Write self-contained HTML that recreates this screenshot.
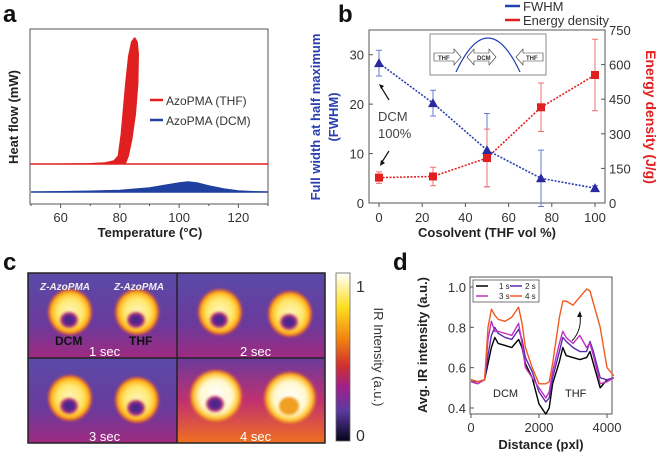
<!DOCTYPE html>
<html><head><meta charset="utf-8"><style>
body{margin:0;background:#fff;}
svg{display:block;font-family:"Liberation Sans",sans-serif;}
.tk{font-size:13px;fill:#333;}
.tt{font-size:13px;font-weight:bold;fill:#222;}
.lt{font-size:24px;font-weight:bold;fill:#111;}
</style></head><body>
<svg id="fig" width="660" height="456" viewBox="0 0 660 456">
<defs>
<radialGradient id="ringG" cx="50%" cy="50%" r="50%">
<stop offset="0%" stop-color="#fff6c0"/><stop offset="55%" stop-color="#ffe870"/><stop offset="78%" stop-color="#ffc020"/><stop offset="90%" stop-color="#f07020"/><stop offset="100%" stop-color="#c03060" stop-opacity="0"/>
</radialGradient>
<radialGradient id="ringW" cx="50%" cy="50%" r="50%">
<stop offset="0%" stop-color="#ffffff"/><stop offset="60%" stop-color="#fff8d0"/><stop offset="80%" stop-color="#ffd040"/><stop offset="92%" stop-color="#f08020"/><stop offset="100%" stop-color="#d04040" stop-opacity="0"/>
</radialGradient>
<radialGradient id="holeG" cx="50%" cy="50%" r="50%">
<stop offset="0%" stop-color="#3e2888"/><stop offset="55%" stop-color="#5a2890"/><stop offset="80%" stop-color="#c03070"/><stop offset="100%" stop-color="#f08030" stop-opacity="0"/>
</radialGradient>
<linearGradient id="bgTop" x1="0" y1="0" x2="0" y2="1">
<stop offset="0%" stop-color="#5a4aa8"/><stop offset="60%" stop-color="#6a3a9c"/><stop offset="100%" stop-color="#a02a80"/>
</linearGradient>
<linearGradient id="bg4" x1="0" y1="0" x2="0" y2="1">
<stop offset="0%" stop-color="#6a3a9c"/><stop offset="50%" stop-color="#c03070"/><stop offset="100%" stop-color="#f07020"/>
</linearGradient>
<linearGradient id="cbar" x1="0" y1="0" x2="0" y2="1">
<stop offset="0%" stop-color="#ffffff"/><stop offset="20%" stop-color="#ffe020"/><stop offset="40%" stop-color="#f08010"/><stop offset="55%" stop-color="#d03030"/><stop offset="68%" stop-color="#a0208a"/><stop offset="82%" stop-color="#5a3aa0"/><stop offset="100%" stop-color="#05051a"/>
</linearGradient>
<filter id="bl"><feGaussianBlur stdDeviation="1.2"/></filter>
</defs>

<g id="pa">
<text class="lt" x="3" y="22">a</text>
<rect x="30" y="29" width="238" height="175" fill="none" stroke="#555" stroke-width="1"/>
<g id="aMarks"></g>
<text class="tt" transform="translate(18,117) rotate(-90)" text-anchor="middle">Heat flow (mW)</text>
<text class="tt" x="150" y="237" text-anchor="middle">Temperature (°C)</text>
<line x1="150" y1="100" x2="163" y2="100" stroke="#e02020" stroke-width="2.5"/>
<text x="166" y="105" font-size="12" fill="#333">AzoPMA (THF)</text>
<line x1="150" y1="120" x2="163" y2="120" stroke="#2040a0" stroke-width="2.5"/>
<text x="166" y="125" font-size="12" fill="#333">AzoPMA (DCM)</text>
</g>

<g id="pb">
<text class="lt" x="338" y="22">b</text>
<rect x="369" y="30" width="236" height="173" fill="none" stroke="#555"/>
<rect x="430" y="34" width="116" height="41" fill="#fff" stroke="#888"/>
<path d="M456 72 Q488 4 520 72" fill="none" stroke="#2040b0" stroke-width="1.2"/>
<g fill="#fff" stroke="#333" stroke-width="0.6">
<path d="M434 53h20v-4l7 8-7 8v-4h-20z"/>
<path d="M474 53h15v-4l7 8-7 8v-4h-15v4l-7-8 7-8z"/>
<path d="M543 53h-20v-4l-7 8 7 8v-4h20z"/>
</g>
<text x="438" y="60" font-size="6" font-weight="bold" fill="#333">THF</text>
<text x="477" y="60" font-size="6" font-weight="bold" fill="#333">DCM</text>
<text x="526" y="60" font-size="6" font-weight="bold" fill="#333">THF</text>
<g id="bMarks"></g>
<text x="378" y="121" font-size="13" fill="#444">DCM</text>
<text x="378" y="138" font-size="13" fill="#444">100%</text>
<line x1="389" y1="100" x2="381" y2="87" stroke="#111" stroke-width="1.2"/>
<path d="M379 84l5 2-3 3z" fill="#111"/>
<line x1="389" y1="151" x2="382" y2="162" stroke="#111" stroke-width="1.2"/>
<path d="M380 166l1-6 4 3z" fill="#111"/>
<text class="tt" transform="translate(320,117) rotate(-90)" text-anchor="middle" style="fill:#2a3fb0">Full width at half maximum</text>
<text class="tt" transform="translate(338,117) rotate(-90)" text-anchor="middle" style="fill:#2a3fb0">(FWHM)</text>
<text class="tt" transform="translate(646,117) rotate(90)" text-anchor="middle" style="fill:#e02020;font-size:14px">Energy density (J/g)</text>
<text class="tt" x="487" y="237" text-anchor="middle">Cosolvent (THF vol %)</text>
<line x1="505" y1="6" x2="520" y2="6" stroke="#2040b0" stroke-width="2.5"/>
<text x="523" y="11" font-size="13" fill="#333">FWHM</text>
<line x1="505" y1="20" x2="520" y2="20" stroke="#e02020" stroke-width="2.5"/>
<text x="523" y="25" font-size="13" fill="#333">Energy density</text>
</g>

<g id="pc">
<text class="lt" x="3" y="270">c</text>
<g id="cImgs"></g>
<rect x="28" y="273" width="297" height="170" fill="none" stroke="#222" stroke-width="1.5"/>
<line x1="177" y1="273" x2="177" y2="443" stroke="#222" stroke-width="1.5"/>
<line x1="28" y1="358" x2="325" y2="358" stroke="#222" stroke-width="1.5"/>
<text x="40" y="290" font-size="10" font-weight="bold" font-style="italic" fill="#eee">Z-AzoPMA</text>
<text x="114" y="290" font-size="10" font-weight="bold" font-style="italic" fill="#eee">Z-AzoPMA</text>
<text x="55" y="345" font-size="12" font-weight="bold" fill="#111">DCM</text>
<text x="129" y="345" font-size="12" font-weight="bold" fill="#111">THF</text>
<text x="89" y="356" font-size="13" fill="#fff">1 sec</text>
<text x="240" y="356" font-size="13" fill="#fff">2 sec</text>
<text x="89" y="441" font-size="13" fill="#fff">3 sec</text>
<text x="240" y="441" font-size="13" fill="#fff">4 sec</text>
<rect x="336" y="273" width="14" height="168" fill="url(#cbar)" stroke="#666" stroke-width="0.8"/>
<text x="356" y="292" font-size="16" fill="#333">1</text>
<text x="356" y="441" font-size="16" fill="#333">0</text>
<text x="374" y="357" font-size="13" fill="#333" transform="rotate(90 374 357)" text-anchor="middle">IR Intensity (a.u.)</text>
</g>

<g id="pd">
<text class="lt" x="393" y="270">d</text>
<rect x="470" y="277" width="142" height="137" fill="none" stroke="#555"/>
<g id="dMarks"></g>
<rect x="473" y="280" width="66" height="22" fill="#fff" stroke="#555" stroke-width="0.8"/>
<line x1="476" y1="286" x2="488" y2="286" stroke="#000" stroke-width="1.5"/>
<text x="499" y="289" font-size="8" fill="#222">1 s</text>
<line x1="510" y1="286" x2="522" y2="286" stroke="#5a2bb0" stroke-width="1.5"/>
<text x="525" y="289" font-size="8" fill="#222">2 s</text>
<line x1="476" y1="296" x2="488" y2="296" stroke="#c030c0" stroke-width="1.5"/>
<text x="499" y="299" font-size="8" fill="#222">3 s</text>
<line x1="510" y1="296" x2="522" y2="296" stroke="#f05a20" stroke-width="1.5"/>
<text x="525" y="299" font-size="8" fill="#222">4 s</text>
<text x="493" y="397" font-size="11" fill="#222">DCM</text>
<text x="565" y="397" font-size="11" fill="#222">THF</text>
<path d="M572 341 Q582 330 580 315" fill="none" stroke="#111" stroke-width="1"/>
<path d="M580 311l-3 6 5 0z" fill="#111"/>
<text class="tt" transform="translate(427,345) rotate(-90)" text-anchor="middle">Avg. IR intensity (a.u.)</text>
<text class="tt" x="541" y="449" text-anchor="middle">Distance (pxl)</text>
</g>
</svg>
<script>
const aTicks=[60,80,100,120];
const thfT=[50,60,70,75,78,79.5,80.5,82,83,84,85,85.8,86.2,86,85.2,84,82.8,82,81.5,130];
const thfH=[0,0,0.3,1,3,8,30,80,108,122,126,122,110,80,50,25,8,2,0,0];
const dcmT=[50,60,70,80,90,95,100,103,106,110,115,120,125,130];
const dcmH=[0,0.3,0.8,1.5,4,6.5,9,10,9,6,3,1,0.3,0];
const bCats=[0,25,50,75,100];
const fwhm=[28.3,20.2,10.7,5.0,3.0];
const fwhmErr=[2.6,2.6,7.4,5.7,0.5];
const energy=[110,115,195,415,555];
const energyErr=[25,40,125,105,155];
const bXTicks=[0,20,40,60,80,100];
const bLTicks=[0,10,20,30];
const bRTicks=[0,150,300,450,600,750];
const dist=[0,200,400,500,600,700,800,1000,1200,1400,1500,1600,1800,2000,2200,2300,2400,2600,2700,2800,3000,3200,3400,3500,3600,3800,4000,4200];
const s1=[.54,.53,.54,.62,.70,.75,.72,.71,.70,.74,.70,.62,.55,.42,.37,.40,.52,.63,.70,.66,.65,.64,.65,.68,.62,.50,.54,.55];
const s2=[.53,.53,.54,.66,.76,.80,.77,.75,.74,.79,.74,.65,.58,.48,.43,.45,.55,.68,.75,.73,.70,.68,.68,.73,.68,.55,.54,.55];
const s3=[.53,.52,.54,.74,.83,.78,.78,.77,.76,.82,.72,.60,.55,.50,.45,.48,.58,.72,.78,.75,.72,.76,.70,.72,.66,.52,.53,.55];
const s4=[.54,.53,.54,.80,.89,.86,.84,.83,.85,.90,.82,.70,.60,.52,.52,.53,.62,.85,.93,.93,.91,.95,.99,.98,.92,.80,.60,.56];
const dXTicks=[0,2000,4000];
const dYTicks=[0.4,0.6,0.8,1.0];

const NS="http://www.w3.org/2000/svg";
function mk(parent,tag,attrs){const e=document.createElementNS(NS,tag);for(const k in attrs)e.setAttribute(k,attrs[k]);parent.appendChild(e);return e;}

(function(){
const g=document.getElementById('aMarks');
const ax=t=>31+(t-50)*(237/80);
const ay=(base,h)=>base-h;
let p='M'+thfT.map((t,i)=>ax(t)+','+ay(164,thfH[i])).join('L')+'Z';
let e=mk(g,'path',{d:p,fill:'#e02020',stroke:'#e02020','stroke-width':1.5,'stroke-linejoin':'round'});


p='M'+dcmT.map((t,i)=>ax(t)+','+ay(192,dcmH[i])).join('L')+'Z';
e=mk(g,'path',{d:p,fill:'#2040a0',stroke:'#2040a0','stroke-width':1.5});


for(let t=50;t<=130;t+=10){mk(g,'line',{x1:ax(t),x2:ax(t),y1:204,y2:t%20==0?208:206,stroke:'#555'});}
aTicks.forEach(t=>{const tx=mk(g,'text',{x:ax(t),y:222,'text-anchor':'middle',class:'tk'});tx.textContent=t;

});
})();

(function(){
const g=document.getElementById('bMarks');
const bx=v=>379+v*2.16;
const yl=v=>203-v*(173/35);
const yr=v=>203-v*(173/750);
bXTicks.forEach(v=>{mk(g,'line',{x1:bx(v),x2:bx(v),y1:203,y2:207,stroke:'#555'});const t=mk(g,'text',{x:bx(v),y:222,'text-anchor':'middle',class:'tk'});t.textContent=v;

});
bLTicks.forEach(v=>{mk(g,'line',{x1:369,x2:373,y1:yl(v),y2:yl(v),stroke:'#555'});const t=mk(g,'text',{x:364,y:yl(v)+5,'text-anchor':'end',class:'tk'});t.textContent=v;

});
bRTicks.forEach(v=>{mk(g,'line',{x1:601,x2:605,y1:yr(v),y2:yr(v),stroke:'#555'});const t=mk(g,'text',{x:609,y:yr(v)+5,class:'tk'});t.textContent=v;

});
let l=mk(g,'polyline',{points:bCats.map((c,i)=>bx(c)+','+yl(fwhm[i])).join(' '),fill:'none',stroke:'#2a3fb0','stroke-width':1.6,'stroke-dasharray':'2,1.5'});


l=mk(g,'polyline',{points:bCats.map((c,i)=>bx(c)+','+yr(energy[i])).join(' '),fill:'none',stroke:'#e02020','stroke-width':1.6,'stroke-dasharray':'2,1.5'});


bCats.forEach((c,i)=>{
 const x=bx(c);
 let e=mk(g,'path',{d:`M${x},${yl(fwhm[i]-fwhmErr[i])}V${yl(fwhm[i]+fwhmErr[i])}M${x-3},${yl(fwhm[i]-fwhmErr[i])}h6M${x-3},${yl(fwhm[i]+fwhmErr[i])}h6`,stroke:'#6a7ad0','stroke-width':1,fill:'none'});
 
 
 e=mk(g,'path',{d:`M${x},${yr(energy[i]-energyErr[i])}V${yr(energy[i]+energyErr[i])}M${x-3},${yr(energy[i]-energyErr[i])}h6M${x-3},${yr(energy[i]+energyErr[i])}h6`,stroke:'#f07070','stroke-width':1,fill:'none'});
 
 
 const y=yl(fwhm[i]);
 e=mk(g,'path',{d:`M${x},${y-5}L${x+5},${y+4}L${x-5},${y+4}Z`,fill:'#2a2aa0'});
 
 
 const y2=yr(energy[i]);
 e=mk(g,'rect',{x:x-4,y:y2-4,width:8,height:8,fill:'#e02020'});
 
 
});
})();

(function(){
const g=document.getElementById('cImgs');
const panels=[
 {x:28,y:273,bg:'url(#bgTop)',ring:'url(#ringG)',r1:[70,312],r2:[137,312]},
 {x:177,y:273,bg:'url(#bgTop)',ring:'url(#ringG)',r1:[220,312],r2:[290,314]},
 {x:28,y:358,bg:'url(#bgTop)',ring:'url(#ringG)',r1:[70,398],r2:[137,400]},
 {x:177,y:358,bg:'url(#bg4)',ring:'url(#ringW)',r1:[216,396],r2:[290,398]}];
panels.forEach((p,i)=>{
 let e=mk(g,'rect',{x:p.x,y:p.y,width:i%2?148:149,height:85,fill:p.bg});
 
 
 [p.r1,p.r2].forEach((c,j)=>{
  const big=i==3;
  e=mk(g,'ellipse',{cx:c[0],cy:c[1],rx:big?27:23,ry:big?27:24,fill:p.ring,filter:'url(#bl)'});
  
  
  e=mk(g,'ellipse',{cx:c[0]-1,cy:c[1]+8,rx:10,ry:9,fill:(i==3&&j==1)?'#f0a020':'url(#holeG)',filter:'url(#bl)'});
  
  
 });
});
})();

(function(){
const g=document.getElementById('dMarks');
const dx=v=>471+v*(136/4000);
const dy=v=>287+(1.0-v)*(121/0.6);
dXTicks.forEach(v=>{mk(g,'line',{x1:dx(v),x2:dx(v),y1:414,y2:418,stroke:'#555'});const t=mk(g,'text',{x:dx(v),y:432,'text-anchor':'middle',class:'tk'});t.textContent=v;

});
dYTicks.forEach(v=>{mk(g,'line',{x1:470,x2:474,y1:dy(v),y2:dy(v),stroke:'#555'});const t=mk(g,'text',{x:466,y:dy(v)+5,'text-anchor':'end',class:'tk'});t.textContent=v.toFixed(1);

});
const series=[[s1,'#000','series-1s'],[s2,'#5a2bb0','series-2s'],[s3,'#c030c0','series-3s'],[s4,'#f05a20','series-4s']];
series.forEach(s=>{
 const l=mk(g,'polyline',{points:dist.map((d,i)=>dx(d)+','+dy(s[0][i])).join(' '),fill:'none',stroke:s[1],'stroke-width':1.4,'stroke-linejoin':'round'});
 
 
});
})();
</script>
</body></html>
